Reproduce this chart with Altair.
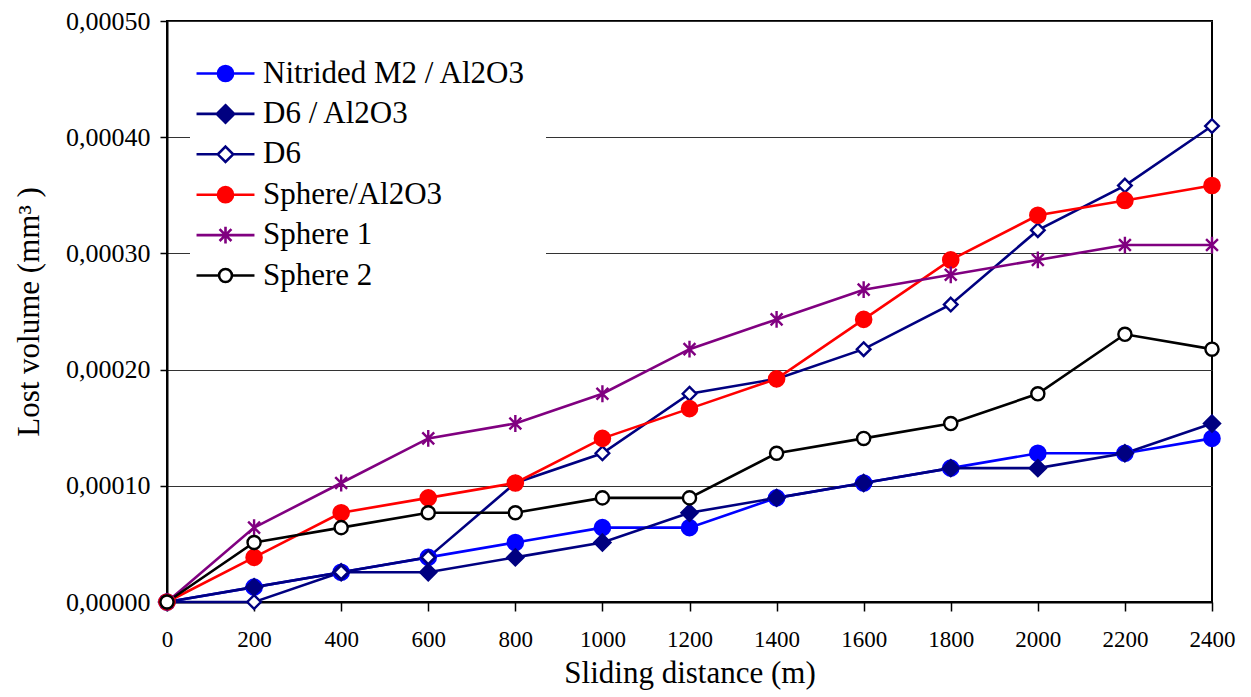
import altair as alt
import pandas as pd

distance = [0, 200, 400, 600, 800, 1000, 1200, 1400, 1600, 1800, 2000, 2200, 2400]

nitrided_m2_al2o3 = [0, 0.0000128, 0.0000256, 0.0000384, 0.0000512, 0.0000640, 0.0000640,
                     0.0000896, 0.0001024, 0.0001152, 0.0001280, 0.0001280, 0.0001408]
d6_al2o3 = [0, 0.0000128, 0.0000256, 0.0000256, 0.0000384, 0.0000512, 0.0000768,
            0.0000896, 0.0001024, 0.0001152, 0.0001152, 0.0001280, 0.0001536]
d6 = [0, 0.0, 0.0000256, 0.0000384, 0.0001024, 0.0001280, 0.0001792,
      0.0001920, 0.0002176, 0.0002560, 0.0003200, 0.0003584, 0.0004096]
sphere_al2o3 = [0, 0.0000384, 0.0000768, 0.0000896, 0.0001024, 0.0001408, 0.0001664,
                0.0001920, 0.0002432, 0.0002944, 0.0003328, 0.0003456, 0.0003584]
sphere_1 = [0, 0.0000640, 0.0001024, 0.0001408, 0.0001536, 0.0001792, 0.0002176,
            0.0002432, 0.0002688, 0.0002816, 0.0002944, 0.0003072, 0.0003072]
sphere_2 = [0, 0.0000512, 0.0000640, 0.0000768, 0.0000768, 0.0000896, 0.0000896,
            0.0001280, 0.0001408, 0.0001536, 0.0001792, 0.0002304, 0.0002176]

series_names = ["Nitrided M2 / Al2O3", "D6 / Al2O3", "D6", "Sphere/Al2O3", "Sphere 1", "Sphere 2"]
series_values = [nitrided_m2_al2o3, d6_al2o3, d6, sphere_al2o3, sphere_1, sphere_2]
stroke_colors = ["#0000FF", "#000080", "#000080", "#FF0000", "#800080", "#000000"]
fill_colors = ["#0000FF", "#000080", "#FFFFFF", "#FF0000", "#FFFFFF", "#FFFFFF"]

y_ticks = [0, 0.0001, 0.0002, 0.0003, 0.0004, 0.0005]
x_ticks = distance

rows = []
for name, vals in zip(series_names, series_values):
    for d, v in zip(distance, vals):
        rows.append({"distance": d, "volume": v, "series": name})
df = pd.DataFrame(rows)


def circle(r):
    return f"M{-r},0A{r},{r} 0 1,0 {r},0A{r},{r} 0 1,0 {-r},0Z"


def diamond(h):
    return f"M0,{-h}L{h},0L0,{h}L{-h},0Z"


def asterisk(h):
    d = round(h * 0.707, 3)
    return f"M0,{-h}V{h}M{-d},{-d}L{d},{d}M{-d},{d}L{d},{-d}"


# marker shapes on the plot (unit = 8 px at size 256)
plot_shapes = [circle(0.95), diamond(1.0), diamond(0.85), circle(0.95), asterisk(1.05), circle(0.82)]

# legend shapes with the line sample through them (unit = 14 px at size 784)
L = 2.07


def with_line(shape_path, gap):
    return f"M{-L},0H{-gap}M{gap},0H{L}" + shape_path


legend_shapes = [
    with_line(circle(0.54), 0.54),
    with_line(diamond(0.62), 0.62),
    with_line(diamond(0.55), 0.55),
    with_line(circle(0.54), 0.54),
    f"M{-L},0H{L}" + asterisk(0.6),
    with_line(circle(0.46), 0.46),
]

x_enc = alt.X("distance:Q",
              scale=alt.Scale(domain=[0, 2400], nice=False, zero=False),
              axis=alt.Axis(values=x_ticks, format="d", title="Sliding distance (m)",
                            grid=False, tickSize=9, labelPadding=17, titlePadding=7,
                            labelFontSize=23, labelFlush=False, labelOverlap=False))
y_enc = alt.Y("volume:Q",
              scale=alt.Scale(domain=[0, 0.0005], nice=False),
              axis=alt.Axis(values=y_ticks, title="Lost volume (mm³ )",
                            labelExpr="replace(format(datum.value, '.5f'), '.', ',')",
                            grid=True, gridColor="#333333", gridWidth=1,
                            tickSize=7, labelPadding=10, titlePadding=20,
                            labelFontSize=26, labelFlush=False, labelOverlap=False))

base = alt.Chart(df)

lines = base.mark_line(strokeWidth=2.6).encode(
    x=x_enc, y=y_enc,
    stroke=alt.Stroke("series:N", scale=alt.Scale(domain=series_names, range=stroke_colors), legend=None),
    detail="series:N",
)

points = base.mark_point(size=256, strokeWidth=2.4, opacity=1).encode(
    x=x_enc, y=y_enc,
    stroke=alt.Stroke("series:N", scale=alt.Scale(domain=series_names, range=stroke_colors), legend=None),
    fill=alt.Fill("series:N", scale=alt.Scale(domain=series_names, range=fill_colors), legend=None),
    shape=alt.Shape("series:N", scale=alt.Scale(domain=series_names, range=plot_shapes), legend=None),
)

legend_spec = alt.Legend(
    title=None, orient="none", legendX=23, legendY=17,
    fillColor="white", padding=20, rowPadding=8.4,
    labelFont="Liberation Serif", labelFontSize=31, labelColor="black",
    labelOffset=22, symbolSize=784, symbolStrokeWidth=2.6, symbolOpacity=1,
    labelLimit=0,
)

legend_layer = base.transform_filter("datum.distance < 0").mark_point(size=784, strokeWidth=2.6, opacity=1).encode(
    x=x_enc, y=y_enc,
    stroke=alt.Stroke("series:N", scale=alt.Scale(domain=series_names, range=stroke_colors), legend=legend_spec),
    fill=alt.Fill("series:N", scale=alt.Scale(domain=series_names, range=fill_colors), legend=legend_spec),
    shape=alt.Shape("series:N", scale=alt.Scale(domain=series_names, range=legend_shapes), legend=legend_spec),
)

chart = alt.layer(lines, points, legend_layer).resolve_scale(
    stroke="independent", fill="independent", shape="independent"
).properties(
    width=1045, height=581,
    autosize=alt.AutoSizeParams(type="none"),
    padding={"left": 167, "top": 21, "right": 39, "bottom": 95},
).configure(
    font="Liberation Serif",
).configure_view(
    stroke="black", strokeWidth=2,
).configure_axis(
    labelFont="Liberation Serif", labelColor="black",
    titleFont="Liberation Serif", titleFontSize=31, titleFontWeight="normal", titleColor="black",
    domainColor="black", domainWidth=2, tickColor="black", tickWidth=1.5,
)

chart.save("out.html", embed_options={"renderer": "svg", "actions": False})
